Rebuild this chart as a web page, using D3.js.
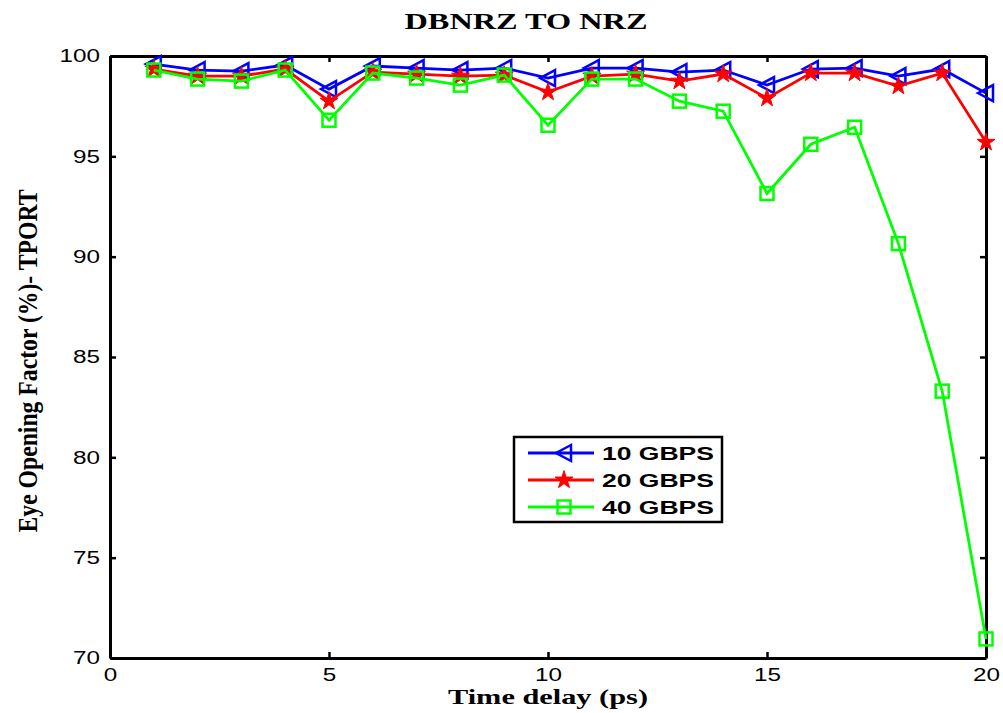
<!DOCTYPE html>
<html>
<head>
<script src="https://d3js.org/d3.v7.min.js"></script>
<style>
  body { margin: 0; background: #fff; }
  svg { display: block; }
</style>
</head>
<body>
<svg id="chart" width="1003" height="713"></svg>
<script>
// data
const delays = [1,2,3,4,5,6,7,8,9,10,11,12,13,14,15,16,17,18,19,20];
const gbps10 = [99.6,99.3,99.25,99.55,98.35,99.5,99.4,99.3,99.4,98.9,99.4,99.4,99.2,99.3,98.55,99.35,99.4,99.0,99.35,98.15];
const gbps20 = [99.35,99.0,99.0,99.35,97.75,99.2,99.1,99.0,99.05,98.2,99.0,99.1,98.75,99.1,97.9,99.15,99.15,98.5,99.15,95.7];
const gbps40 = [99.3,98.85,98.75,99.3,96.8,99.15,98.9,98.55,99.05,96.55,98.85,98.85,97.75,97.25,93.15,95.6,96.45,90.65,83.3,70.95];
const xTicks = [0,5,10,15,20];
const yTicks = [70,75,80,85,90,95,100];
const series = [
    {name: "10 GBPS", values: gbps10, color: "#0000ff", marker: "triangle"},
    {name: "20 GBPS", values: gbps20, color: "#ff0000", marker: "star"},
    {name: "40 GBPS", values: gbps40, color: "#00ff00", marker: "square"}
];

const svg = d3.select("#chart");
const plotL = 110, plotR = 986, plotT = 56, plotB = 658;
const x = d3.scaleLinear().domain([0, 20]).range([plotL, plotR]);
const y = d3.scaleLinear().domain([70, 100]).range([plotB, plotT]);

/* draw one marker at (cx, cy) */
function marker(g, type, cx, cy, color) {
    if (type === "triangle") {
        g.append("path")
         .attr("d", `M${cx-8},${cy} L${cx+7},${cy-8} L${cx+7},${cy+8} Z`)
         .attr("fill", "none").attr("stroke", color).attr("stroke-width", 2.5);
    } else if (type === "star") {
        g.append("path")
         .attr("d", d3.symbol(d3.symbolStar, 100)())
         .attr("transform", `translate(${cx},${cy})`)
         .attr("fill", color).attr("stroke", color).attr("stroke-width", 1);
    } else {
        g.append("rect")
         .attr("x", cx-6.5).attr("y", cy-6.5).attr("width", 13).attr("height", 13)
         .attr("fill", "none").attr("stroke", color).attr("stroke-width", 2.5);
    }
}

// axes: bottom/left with labels, top/right mirrored ticks inward
const axisFont = "'Liberation Sans', Arial, sans-serif";
const gx = svg.append("g").attr("transform", `translate(0,${plotB})`)
    .call(d3.axisBottom(x).tickValues(xTicks).tickSizeInner(-6).tickSizeOuter(0).tickPadding(10));
const gy = svg.append("g").attr("transform", `translate(${plotL},0)`)
    .call(d3.axisLeft(y).tickValues(yTicks).tickSizeInner(-6).tickSizeOuter(0).tickPadding(10));
const gxt = svg.append("g").attr("transform", `translate(0,${plotT})`)
    .call(d3.axisTop(x).tickValues(xTicks).tickSizeInner(-6).tickSizeOuter(0).tickFormat(""));
const gyr = svg.append("g").attr("transform", `translate(${plotR},0)`)
    .call(d3.axisRight(y).tickValues(yTicks).tickSizeInner(-6).tickSizeOuter(0).tickFormat(""));
[gx, gy, gxt, gyr].forEach(g => {
    g.select(".domain").attr("stroke", "#000").attr("stroke-width", 3);
    g.selectAll(".tick line").attr("stroke", "#000").attr("stroke-width", 2.5);
    g.selectAll("text").attr("font-family", axisFont).attr("font-size", 18).attr("fill", "#000")
     .attr("textLength", d => String(d).length * 13.5).attr("lengthAdjust", "spacingAndGlyphs");
});

// lines and markers
const line = d3.line().x((d, i) => x(delays[i])).y(d => y(d));
series.forEach(s => {
    svg.append("path").datum(s.values)
       .attr("d", line).attr("fill", "none")
       .attr("stroke", s.color).attr("stroke-width", 2.8);
    const g = svg.append("g");
    s.values.forEach((v, i) => marker(g, s.marker, x(delays[i]), y(v), s.color));
});

// title and axis labels
const serif = "'Liberation Serif', 'Times New Roman', serif";
svg.append("text").attr("x", 526).attr("y", 29).attr("text-anchor", "middle")
   .attr("font-family", serif).attr("font-weight", "bold").attr("font-size", 24)
   .attr("textLength", 243).attr("lengthAdjust", "spacingAndGlyphs")
   .text("DBNRZ TO NRZ");
svg.append("text").attr("x", 548).attr("y", 704).attr("text-anchor", "middle")
   .attr("font-family", serif).attr("font-weight", "bold").attr("font-size", 22)
   .attr("textLength", 200).attr("lengthAdjust", "spacingAndGlyphs")
   .text("Time delay (ps)");
svg.append("text").attr("transform", "translate(37,361) rotate(-90)")
   .attr("text-anchor", "middle")
   .attr("font-family", serif).attr("font-weight", "bold").attr("font-size", 28)
   .attr("textLength", 343).attr("lengthAdjust", "spacingAndGlyphs")
   .text("Eye Opening Factor (%)- TPORT");

// legend
const lg = svg.append("g");
lg.append("rect").attr("x", 514).attr("y", 437).attr("width", 208).attr("height", 85)
  .attr("fill", "#fff").attr("stroke", "#000").attr("stroke-width", 2.5);
series.forEach((s, i) => {
    const ly = 453 + i * 27;
    lg.append("line").attr("x1", 528).attr("x2", 594).attr("y1", ly).attr("y2", ly)
      .attr("stroke", s.color).attr("stroke-width", 2.8);
    marker(lg, s.marker, 564, ly, s.color);
    lg.append("text").attr("x", 602).attr("y", ly + 7)
      .attr("font-family", axisFont).attr("font-weight", "bold").attr("font-size", 19)
      .attr("textLength", 112).attr("lengthAdjust", "spacingAndGlyphs")
      .text(s.name);
});
</script>
</body>
</html>
